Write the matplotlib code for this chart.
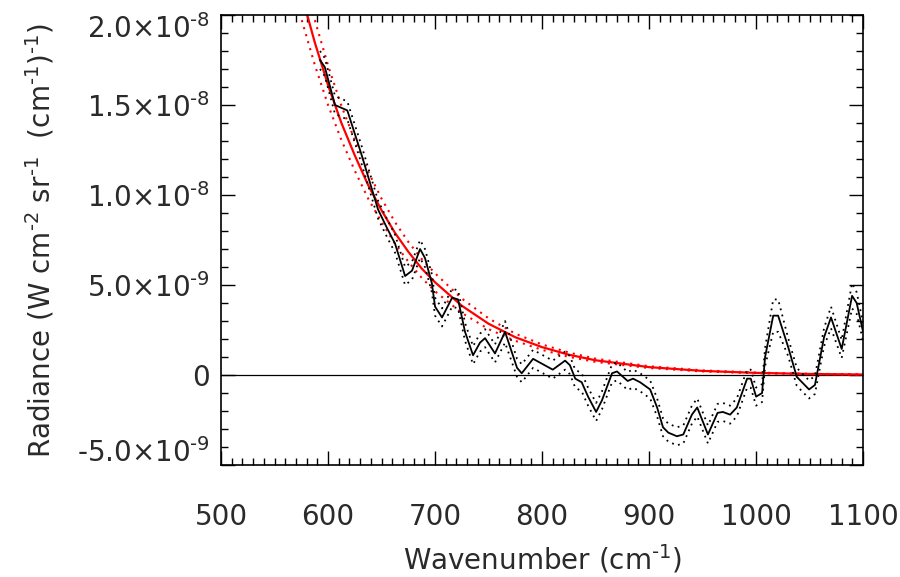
import matplotlib
matplotlib.use("Agg")
import matplotlib.pyplot as plt
import matplotlib.transforms as mtransforms
import numpy as np

plt.rcParams['font.family'] = ['DejaVu Sans']
plt.rcParams['mathtext.fontset'] = 'dejavusans'

# measured spectrum (radiance in units of 1e-9)
wavenumber = [592.5, 597, 606.5, 618, 631.5, 646.7, 654.8, 662.6, 672, 678.5, 686, 690.6,
              697, 700, 706.5, 716, 721.5, 728, 735.5, 742, 746.7, 756, 765.4, 776.6,
              781, 791.6, 810, 821.5, 826, 831, 837, 843, 850.5, 856, 865.4, 870,
              880, 885, 891.6, 901, 907.5, 913, 918, 926, 932, 940, 945, 955,
              964, 969, 975.7, 982, 991.6, 995, 1000, 1005.6, 1008.4, 1016, 1020.6, 1030,
              1038, 1049.5, 1055, 1063.5, 1070, 1080, 1089.7, 1094, 1100]
radiance = [17.5, 17.1, 15.0, 14.7, 12.2, 9.2, 8.2, 7.3, 5.5, 5.8, 7.0, 6.5,
            5.1, 3.8, 3.2, 4.3, 4.2, 2.4, 1.1, 1.8, 2.05, 1.2, 2.4, 0.4,
            0.1, 0.9, 0.3, 0.8, 0.55, -0.2, -0.4, -1.2, -2.05, -1.4, 0.1, 0.2,
            -0.33, -0.2, -0.4, -0.8, -1.8, -2.9, -3.2, -3.4, -3.3, -2.2, -1.8, -3.3,
            -2.1, -2.05, -2.2, -1.8, -0.2, -0.2, -1.2, -1.0, 1.0, 3.3, 3.3, 1.55,
            -0.1, -0.8, -0.55, 2.1, 3.2, 1.45, 4.4, 4.0, 2.4]
rad_err = [0.5, 0.5, 0.5, 0.5, 0.5, 0.5, 0.5, 0.5, 0.5, 0.5, 0.5, 0.5,
           0.5, 0.5, 0.5, 0.5, 0.5, 0.5, 0.5, 0.5, 0.5, 0.5, 0.6, 0.5,
           0.5, 0.5, 0.5, 0.5, 0.5, 0.5, 0.5, 0.5, 0.5, 0.5, 0.5, 0.5,
           0.5, 0.5, 0.5, 0.5, 0.5, 0.5, 0.5, 0.5, 0.5, 0.5, 0.5, 0.5,
           0.5, 0.5, 0.5, 0.5, 0.5, 0.5, 0.5, 0.5, 0.5, 0.9, 0.9, 0.5,
           0.5, 0.5, 0.5, 0.5, 0.6, 0.5, 0.7, 0.6, 0.5]

# fitted curve and its bounds (units of 1e-9)
fit_wn = [565, 575, 587.5, 600, 612.5, 625, 637.5, 650, 662.5, 675, 687.5, 700,
          725, 750, 775, 800, 825, 850, 900, 950, 1000, 1050, 1100]
fit_rad = [23.7, 21.2, 18.5, 16.1, 14.0, 12.2, 10.55, 9.15, 7.9, 6.85, 5.92, 5.15,
           3.85, 2.85, 2.1, 1.55, 1.13, 0.82, 0.44, 0.23, 0.12, 0.06, 0.03]
fit_hi = [25.3, 22.6, 19.75, 17.2, 14.95, 13.05, 11.3, 9.8, 8.5, 7.4, 6.45, 5.65,
          4.25, 3.15, 2.3, 1.7, 1.25, 0.91, 0.49, 0.26, 0.14, 0.07, 0.035]
fit_lo = [22.1, 19.8, 17.25, 15.0, 13.05, 11.35, 9.8, 8.5, 7.3, 6.3, 5.4, 4.65,
          3.45, 2.55, 1.9, 1.4, 1.01, 0.73, 0.39, 0.2, 0.1, 0.05, 0.025]

ytick_vals = [-5e-9, 0, 5e-9, 1e-8, 1.5e-8, 2e-8]
ytick_labels = [r'-5.0$\times$10$^{\text{-9}}$', '0', r'5.0$\times$10$^{\text{-9}}$',
                r'1.0$\times$10$^{\text{-8}}$', r'1.5$\times$10$^{\text{-8}}$',
                r'2.0$\times$10$^{\text{-8}}$']

scale = 1e-9
wn = np.array(wavenumber)
rad = np.array(radiance) * scale
err = np.array(rad_err) * scale

fig = plt.figure(figsize=(9, 5.77), dpi=100)
ax = fig.add_axes([0.2456, 0.194, 0.7134, 0.780])

dots = (0, (1, 2.5))
ax.axhline(0, color='black', lw=0.9)
ax.plot(fit_wn, np.array(fit_rad) * scale, color='red', lw=1.6)
ax.plot(fit_wn, np.array(fit_hi) * scale, color='red', lw=1.5, linestyle=dots)
ax.plot(fit_wn, np.array(fit_lo) * scale, color='red', lw=1.5, linestyle=dots)
ax.plot(wn, rad, color='black', lw=1.3)
ax.plot(wn, rad + err, color='black', lw=1.3, linestyle=dots)
ax.plot(wn, rad - err, color='black', lw=1.3, linestyle=dots)

ax.set_xlim(500, 1100)
ax.set_ylim(-5e-9, 2e-8)
ax.set_xticks(np.arange(500, 1101, 100))
ax.set_xticks(np.arange(500, 1101, 10), minor=True)
ax.set_yticks(ytick_vals)
ax.set_yticklabels(ytick_labels)
ax.set_yticks(np.arange(-5e-9, 2.01e-8, 1e-9), minor=True)

ax.tick_params(which='both', direction='in', top=True, right=True, width=1.0,
               labelsize=20, labelcolor='#2a2a2a')
ax.tick_params(which='major', length=10)
ax.tick_params(which='minor', length=5)
ax.tick_params(axis='x', pad=27)
ax.tick_params(axis='y', pad=8)
for sp in ax.spines.values():
    sp.set_linewidth(1.2)

# the end labels sit inward in the original
labels = ax.get_yticklabels()
for lab, dy in [(labels[0], 11), (labels[-1], -8)]:
    lab.set_transform(lab.get_transform() +
                      mtransforms.ScaledTranslation(0, dy / 72, fig.dpi_scale_trans))

ax.set_xlabel(r'Wavenumber (cm$^{\text{-1}}$)', fontsize=20, color='#2a2a2a', labelpad=9)
ax.set_ylabel(r'Radiance (W cm$^{\text{-2}}$ sr$^{\text{-1}}$  (cm$^{\text{-1}}$)$^{\text{-1}}$)',
              fontsize=20, color='#2a2a2a', labelpad=15)

fig.savefig('out.png', dpi=100)
